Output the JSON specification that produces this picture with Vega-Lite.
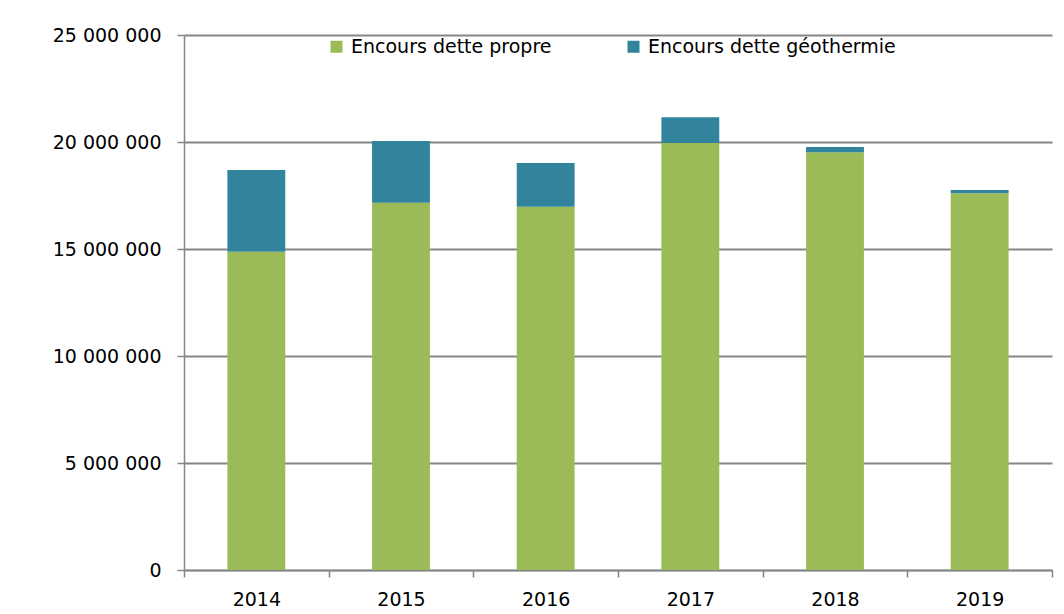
{
  "$schema": "https://vega.github.io/schema/vega-lite/v6.json",
  "autosize": "none",
  "width": 868,
  "height": 535,
  "padding": {"left": 184, "top": 35, "right": 12, "bottom": 44},
  "background": "white",
  "data": {
    "values": [
      {"annee": "2014", "serie": "Encours dette propre", "montant": 14870000},
      {"annee": "2014", "serie": "Encours dette géothermie", "montant": 3820000},
      {"annee": "2015", "serie": "Encours dette propre", "montant": 17160000},
      {"annee": "2015", "serie": "Encours dette géothermie", "montant": 2890000},
      {"annee": "2016", "serie": "Encours dette propre", "montant": 16980000},
      {"annee": "2016", "serie": "Encours dette géothermie", "montant": 2040000},
      {"annee": "2017", "serie": "Encours dette propre", "montant": 19950000},
      {"annee": "2017", "serie": "Encours dette géothermie", "montant": 1210000},
      {"annee": "2018", "serie": "Encours dette propre", "montant": 19520000},
      {"annee": "2018", "serie": "Encours dette géothermie", "montant": 250000},
      {"annee": "2019", "serie": "Encours dette propre", "montant": 17600000},
      {"annee": "2019", "serie": "Encours dette géothermie", "montant": 160000}
    ]
  },
  "mark": {"type": "bar", "width": {"band": 0.4}},
  "encoding": {
    "x": {
      "field": "annee",
      "type": "ordinal",
      "scale": {"type": "band", "paddingInner": 0, "paddingOuter": 0},
      "axis": {
        "title": null,
        "labelAngle": 0,
        "tickBand": "extent",
        "tickSize": 7,
        "tickColor": "#868686",
        "tickWidth": 1.5,
        "domainColor": "#868686",
        "domainWidth": 1.5,
        "labelFont": "DejaVu Sans",
        "labelFontSize": 19,
        "labelColor": "#000000",
        "labelPadding": 13,
        "grid": false
      }
    },
    "y": {
      "field": "montant",
      "type": "quantitative",
      "aggregate": "sum",
      "stack": "zero",
      "scale": {"domain": [0, 25000000], "nice": false},
      "axis": {
        "title": null,
        "values": [0, 5000000, 10000000, 15000000, 20000000, 25000000],
        "labelExpr": "replace(format(datum.value, ','), regexp(',', 'g'), ' ')",
        "tickSize": 7,
        "tickColor": "#868686",
        "tickWidth": 1.5,
        "domainColor": "#868686",
        "domainWidth": 1.5,
        "gridColor": "#868686",
        "gridWidth": 2,
        "labelFont": "DejaVu Sans",
        "labelFontSize": 19,
        "labelColor": "#000000",
        "labelPadding": 16
      }
    },
    "color": {
      "field": "serie",
      "type": "nominal",
      "scale": {
        "domain": ["Encours dette propre", "Encours dette géothermie"],
        "range": ["#9BBB59", "#31849B"]
      },
      "legend": {
        "title": null,
        "orient": "none",
        "legendX": 143,
        "legendY": 2,
        "direction": "horizontal",
        "symbolType": "square",
        "symbolSize": 144,
        "symbolStrokeWidth": 0,
        "labelFont": "DejaVu Sans",
        "labelFontSize": 19,
        "labelColor": "#000000",
        "labelOffset": 5,
        "labelLimit": 0,
        "columnPadding": 72,
        "padding": 0
      }
    },
    "order": {"field": "serie", "sort": "descending"}
  },
  "config": {
    "view": {"stroke": null},
    "axis": {"labelFontWeight": "normal"}
  }
}
